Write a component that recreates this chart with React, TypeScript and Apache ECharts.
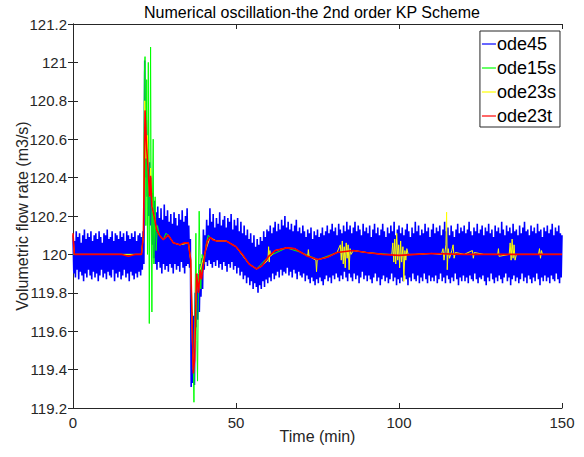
import React, { useEffect, useRef } from "react";
import * as echarts from "echarts";

const title = "Numerical oscillation-the 2nd order KP Scheme";
const xName = "Time (min)";
const yName = "Volumetric flow rate (m3/s)";
const seriesNames = ["ode45", "ode15s", "ode23s", "ode23t"];
const seriesColors = ["#0000FF", "#00FF00", "#FFFF00", "#FF0000"];

// ode45: noisy band, read as upper value at t = 0, 0.5, 1, ... and lower value at t + 0.25
const blueHi = [
  120.10, 120.07, 120.12, 120.09, 120.11, 120.06, 120.10, 120.13, 120.08, 120.11,
  120.09, 120.12, 120.07, 120.10, 120.11, 120.08, 120.12, 120.09, 120.06, 120.11,
  120.10, 120.13, 120.08, 120.09, 120.12, 120.07, 120.11, 120.10, 120.08, 120.12,
  120.09, 120.11, 120.07, 120.12, 120.10, 120.08, 120.11, 120.09, 120.12, 120.07,
  120.10, 120.11, 120.09, 120.12, 121.01, 120.70, 120.55, 120.48, 120.40, 120.32,
  120.28, 120.22, 120.25, 120.19, 120.24, 120.18, 120.26, 120.20, 120.23, 120.17,
  120.21, 120.16, 120.22, 120.19, 120.15, 120.21, 120.18, 120.23, 120.17, 120.20,
  120.24, 120.15, 120.08, 119.70, 119.68, 119.80, 119.90, 119.86, 119.95, 119.98,
  120.13, 120.10, 120.18, 120.15, 120.24, 120.17, 120.21, 120.14, 120.19, 120.16,
  120.22, 120.15, 120.18, 120.20, 120.14, 120.19, 120.17, 120.21, 120.13, 120.18,
  120.15, 120.19, 120.12, 120.17, 120.11, 120.15, 120.10, 120.13, 120.08, 120.11,
  120.06, 120.10, 120.04, 120.08, 120.05, 120.09, 120.07, 120.12, 120.09, 120.13,
  120.12, 120.15, 120.11, 120.14, 120.17, 120.12, 120.16, 120.13, 120.18, 120.15,
  120.20, 120.14, 120.17, 120.13, 120.16, 120.12, 120.15, 120.18, 120.12, 120.14,
  120.11, 120.15, 120.12, 120.09, 120.13, 120.11, 120.14, 120.08, 120.12, 120.10,
  120.13, 120.09, 120.11, 120.14, 120.10, 120.12, 120.15, 120.11, 120.13, 120.16,
  120.12, 120.14, 120.10, 120.16, 120.13, 120.11, 120.15, 120.12, 120.17, 120.13,
  120.15, 120.11, 120.14, 120.17, 120.12, 120.15, 120.13, 120.10, 120.16, 120.12,
  120.14, 120.11, 120.15, 120.09, 120.13, 120.16, 120.11, 120.14, 120.10, 120.13,
  120.16, 120.12, 120.09, 120.14, 120.11, 120.15, 120.12, 120.17, 120.10, 120.13,
  120.15, 120.11, 120.14, 120.10, 120.13, 120.16, 120.12, 120.09, 120.14, 120.11,
  120.17, 120.12, 120.15, 120.10, 120.13, 120.11, 120.16, 120.12, 120.14, 120.09,
  120.13, 120.16, 120.11, 120.14, 120.12, 120.15, 120.10, 120.13, 120.17, 120.12,
  120.14, 120.10, 120.15, 120.12, 120.09, 120.13, 120.16, 120.11, 120.14, 120.12,
  120.15, 120.11, 120.13, 120.17, 120.12, 120.10, 120.14, 120.12, 120.16, 120.11,
  120.13, 120.15, 120.10, 120.14, 120.12, 120.16, 120.11, 120.13, 120.09, 120.15,
  120.12, 120.14, 120.11, 120.17, 120.13, 120.10, 120.15, 120.12, 120.14, 120.11,
  120.16, 120.12, 120.13, 120.10, 120.15, 120.11, 120.14, 120.17, 120.12, 120.13,
  120.10, 120.15, 120.12, 120.14, 120.11, 120.16, 120.12, 120.13, 120.09, 120.14,
  120.12, 120.15, 120.11, 120.13, 120.16, 120.10, 120.14, 120.12, 120.15, 120.11,
];
const blueLo = [
  119.90, 119.88, 119.92, 119.87, 119.91, 119.89, 119.86, 119.90, 119.88, 119.92,
  119.89, 119.87, 119.91, 119.88, 119.90, 119.86, 119.89, 119.92, 119.88, 119.90,
  119.87, 119.91, 119.89, 119.88, 119.92, 119.86, 119.90, 119.88, 119.91, 119.87,
  119.89, 119.92, 119.88, 119.90, 119.86, 119.91, 119.89, 119.87, 119.90, 119.88,
  119.91, 119.89, 119.92, 119.95, 120.40, 120.30, 120.20, 120.15, 120.05, 119.98,
  119.95, 119.92, 119.96, 119.93, 119.90, 119.95, 119.92, 119.94, 119.91, 119.95,
  119.93, 119.90, 119.95, 119.92, 119.94, 119.91, 119.96, 119.93, 119.90, 119.94,
  119.95, 119.93, 119.31, 119.33, 119.32, 119.62, 119.66, 119.70, 119.78, 119.82,
  119.92, 119.96, 119.94, 119.97, 119.95, 119.93, 119.96, 119.94, 119.97, 119.93,
  119.95, 119.92, 119.96, 119.94, 119.91, 119.95, 119.93, 119.96, 119.92, 119.94,
  119.90, 119.93, 119.89, 119.91, 119.87, 119.89, 119.85, 119.88, 119.84, 119.86,
  119.82, 119.85, 119.83, 119.80, 119.84, 119.82, 119.86, 119.83, 119.87, 119.85,
  119.88, 119.86, 119.90, 119.87, 119.89, 119.91, 119.88, 119.92, 119.89, 119.91,
  119.90, 119.93, 119.89, 119.91, 119.88, 119.92, 119.90, 119.87, 119.91, 119.89,
  119.88, 119.90, 119.86, 119.89, 119.87, 119.85, 119.88, 119.86, 119.84, 119.87,
  119.85, 119.88, 119.86, 119.84, 119.87, 119.89, 119.86, 119.88, 119.85, 119.89,
  119.87, 119.90, 119.88, 119.86, 119.89, 119.87, 119.91, 119.88, 119.86, 119.90,
  119.88, 119.86, 119.90, 119.87, 119.89, 119.85, 119.88, 119.91, 119.87, 119.89,
  119.86, 119.89, 119.87, 119.85, 119.88, 119.90, 119.86, 119.88, 119.84, 119.87,
  119.89, 119.86, 119.88, 119.85, 119.87, 119.90, 119.86, 119.88, 119.84, 119.87,
  119.85, 119.88, 119.86, 119.89, 119.87, 119.84, 119.88, 119.86, 119.90, 119.87,
  119.86, 119.89, 119.85, 119.88, 119.86, 119.90, 119.87, 119.85, 119.89, 119.86,
  119.88, 119.86, 119.89, 119.85, 119.87, 119.90, 119.86, 119.88, 119.85, 119.89,
  119.87, 119.85, 119.88, 119.86, 119.90, 119.87, 119.84, 119.88, 119.86, 119.89,
  119.86, 119.88, 119.85, 119.89, 119.87, 119.86, 119.90, 119.87, 119.85, 119.88,
  119.87, 119.89, 119.86, 119.84, 119.88, 119.86, 119.90, 119.87, 119.85, 119.88,
  119.86, 119.89, 119.87, 119.85, 119.88, 119.90, 119.86, 119.88, 119.84, 119.87,
  119.89, 119.86, 119.88, 119.85, 119.87, 119.90, 119.86, 119.88, 119.85, 119.89,
  119.87, 119.85, 119.88, 119.86, 119.90, 119.87, 119.84, 119.88, 119.86, 119.89,
  119.86, 119.88, 119.85, 119.89, 119.87, 119.86, 119.90, 119.87, 119.85, 119.88,
];
const blueEnd = [150, 120.1];

// ode15s
const greenT = [
  0, 21, 21.6, 21.9, 22.1, 22.35, 22.6, 22.85, 23.1, 23.4, 23.6, 23.8, 24.0, 24.2,
  24.4, 24.6, 24.8, 25.2, 25.5, 25.9, 26.5, 27.7, 28.5, 29.2, 30.8, 32.8, 35.4,
  36.1, 36.7, 37.1, 37.4, 37.7, 38.0, 38.2, 38.5, 38.7, 39.0, 39.2, 39.6, 40.2,
  40.8, 41.5, 42, 44, 47, 50, 54, 56.3, 60, 65.5, 70, 75.2, 81, 86, 90, 100, 110,
  120, 150,
];
const greenV = [
  120.0, 120.0, 120.1, 120.95, 121.03, 120.15, 120.91, 120.0, 121.0, 119.64, 120.4,
  121.08, 120.2, 119.7, 120.3, 120.6, 119.95, 120.3, 120.02, 120.15, 120.1, 120.077,
  120.11, 120.1, 120.06, 120.05, 120.06, 119.97, 119.6, 119.23, 119.7, 120.11,
  119.55, 119.34, 119.9, 120.225, 119.95, 119.82, 120.0, 119.95, 120.05, 120.1,
  120.088, 120.07, 120.07, 120.04, 119.95, 119.924, 119.99, 120.034, 120.01,
  119.973, 120.01, 120.02, 120.01, 119.995, 120.005, 120.0, 120.0,
];

// ode23s
const yellowT = [
  0, 0.4, 21, 21.6, 22.0, 22.4, 22.8, 23.1, 23.5, 23.8, 24.2, 24.6, 25.1, 25.6,
  26.5, 27.7, 29.2, 30.8, 32.8, 35.4, 36.1, 36.6, 36.9, 37.3, 37.9, 38.5, 39,
  40.5, 42, 44, 47, 50, 54, 56.3, 58, 59.8, 60, 60.2, 60.4, 60.6, 62, 65.5, 68,
  70, 72, 72.2, 72.4, 74.5, 74.7, 74.9, 75.2, 78, 81, 82, 82.3, 82.6, 82.9, 83.2,
  83.5, 83.8, 84.1, 84.4, 84.7, 85, 85.3, 86, 90, 95, 97.8, 98.1, 98.4, 98.7, 99,
  99.3, 99.6, 99.9, 100.2, 100.5, 100.8, 101.2, 101.5, 101.8, 102.1, 102.4, 102.8,
  105, 110, 113, 113.5, 113.8, 114.4, 114.6, 114.8, 115.1, 115.5, 116.2, 116.6,
  116.9, 117.3, 120, 122.5, 122.8, 123.1, 126, 130.3, 130.5, 130.7, 133.8, 134.1,
  134.4, 134.7, 135.0, 135.3, 135.6, 136, 142.8, 143.1, 143.4, 143.7, 144, 150,
];
const yellowV = [
  120.1, 120.0, 120.0, 120.1, 120.8, 120.5, 120.62, 120.43, 120.3, 120.45, 120.25,
  120.22, 120.18, 120.13, 120.1, 120.077, 120.1, 120.06, 120.05, 120.06, 119.97,
  119.55, 119.4, 119.5, 119.9, 119.8, 119.92, 120.01, 120.088, 120.07, 120.07,
  120.04, 119.95, 119.924, 119.94, 119.97, 120.04, 119.96, 120.02, 119.99, 120.02,
  120.034, 120.03, 120.01, 119.99, 120.025, 119.99, 119.97, 119.91, 119.97, 119.973,
  119.985, 120.01, 120.05, 119.97, 120.07, 119.95, 120.04, 119.93, 120.06, 119.98,
  120.05, 119.92, 120.03, 120.0, 120.02, 120.01, 120.0, 120.0, 120.06, 119.96,
  120.08, 119.95, 120.11, 119.97, 120.05, 119.93, 120.07, 119.96, 120.04, 119.86,
  120.02, 119.97, 120.03, 120.0, 120.0, 120.005, 120.0, 120.03, 119.97, 120.05,
  120.22, 119.92, 120.03, 119.98, 120.02, 120.05, 119.98, 120.01, 120.0, 120.02,
  119.98, 120.01, 120.0, 120.0, 120.03, 119.99, 120.0, 120.06, 119.97, 120.08,
  119.98, 120.05, 119.97, 120.0, 120.0, 120.03, 119.98, 120.02, 120.0, 120.0,
];

// ode23t
const redT = [
  0, 0.4, 5, 10, 15, 17, 19, 21, 21.6, 22.1, 22.6, 23.1, 23.5, 23.8, 24.2, 24.6,
  25.1, 25.6, 26.5, 27.7, 28.5, 29.2, 30.0, 30.8, 32.8, 34, 35.4, 36.1, 36.6,
  36.9, 37.3, 37.9, 38.5, 39, 39.4, 40.5, 41.2, 42, 43, 44, 47, 50, 52, 54, 56.3,
  58, 60, 62, 65.5, 68, 70, 72, 75.2, 78, 81, 86, 90, 95, 100, 105, 110, 120, 130,
  140, 150,
];
const redV = [
  120.11, 120.0, 120.0, 120.0, 120.0, 119.99, 120.0, 120.0, 120.1, 120.75, 120.55,
  120.43, 120.3, 120.41, 120.25, 120.22, 120.18, 120.13, 120.1, 120.077, 120.09,
  120.1, 120.08, 120.06, 120.05, 120.06, 120.06, 119.97, 119.6, 119.38, 119.45,
  119.9, 119.8, 119.92, 119.87, 120.01, 120.07, 120.088, 120.075, 120.07, 120.07,
  120.04, 120.0, 119.95, 119.924, 119.94, 119.99, 120.02, 120.034, 120.03, 120.01,
  119.99, 119.973, 119.985, 120.01, 120.02, 120.01, 120.0, 119.995, 120.0, 120.005,
  120.0, 120.0, 120.0, 120.0,
];

const xTicks = { min: 0, max: 150, interval: 50 };
const yTicks = { min: 119.2, max: 121.2, interval: 0.2 };

const FONT = "'Liberation Sans', Arial, Helvetica, sans-serif";
const INK = "#262626";

function pairs(t: number[], v: number[]) {
  return t.map((x, i) => [x, v[i]]);
}

function bluePairs() {
  const out: number[][] = [];
  blueHi.forEach((h, i) => {
    out.push([i * 0.5, h]);
    out.push([i * 0.5 + 0.25, blueLo[i]]);
  });
  out.push(blueEnd);
  return out;
}

export default function App() {
  const ref = useRef<HTMLDivElement>(null);
  useEffect(() => {
    if (!ref.current) return;
    const chart = echarts.init(ref.current, undefined, { renderer: "svg" });
    const axisCommon = {
      axisLine: { show: true, lineStyle: { color: INK, width: 1 } },
      axisTick: { show: true, inside: true, length: 5, lineStyle: { color: INK } },
      splitLine: { show: false },
    };
    const data = [bluePairs(), pairs(greenT, greenV), pairs(yellowT, yellowV), pairs(redT, redV)];
    chart.setOption({
      animation: false,
      backgroundColor: "#ffffff",
      textStyle: { fontFamily: FONT },
      graphic: [
        {
          type: "text",
          x: 312,
          y: 12,
          silent: true,
          style: {
            text: title,
            align: "center",
            verticalAlign: "middle",
            fontFamily: FONT,
            fontSize: 16,
            fill: "#000",
          },
        },
      ],
      grid: {
        left: 73,
        right: 22,
        top: 24,
        bottom: 49,
        containLabel: false,
        outerBoundsMode: "none",
      },
      legend: {
        orient: "vertical",
        right: 24,
        top: 31,
        padding: [4, 4, 2, 2],
        itemGap: 6,
        itemWidth: 14,
        itemHeight: 1.2,
        icon: "rect",
        borderColor: INK,
        borderWidth: 1,
        borderRadius: 0,
        backgroundColor: "#ffffff",
        textStyle: { fontFamily: FONT, fontSize: 18, color: "#000", padding: [0, 0, 0, -4] },
        data: seriesNames,
      },
      xAxis: [
        {
          type: "value",
          ...xTicks,
          name: xName,
          nameLocation: "middle",
          nameGap: 20,
          nameMoveOverlap: false,
          nameTextStyle: { fontFamily: FONT, fontSize: 16, color: INK, verticalAlign: "top" },
          axisLabel: { fontFamily: FONT, fontSize: 15, color: INK, margin: 7 },
          ...axisCommon,
        },
        {
          type: "value",
          position: "top",
          ...xTicks,
          axisLabel: { show: false },
          ...axisCommon,
        },
      ],
      yAxis: [
        {
          type: "value",
          ...yTicks,
          name: yName,
          nameLocation: "middle",
          nameGap: 43,
          nameMoveOverlap: false,
          nameTextStyle: { fontFamily: FONT, fontSize: 16, color: INK },
          axisLabel: {
            fontFamily: FONT,
            fontSize: 15,
            color: INK,
            margin: 6,
            formatter: (v: number) => String(parseFloat(v.toFixed(1))),
          },
          ...axisCommon,
        },
        {
          type: "value",
          position: "right",
          ...yTicks,
          axisLabel: { show: false },
          ...axisCommon,
        },
      ],
      series: seriesNames.map((name, i) => ({
        name,
        type: "line",
        xAxisIndex: 0,
        yAxisIndex: 0,
        data: data[i],
        symbol: "none",
        showSymbol: false,
        color: seriesColors[i],
        lineStyle: { color: seriesColors[i], width: i === 3 ? 1.6 : i === 0 ? 1.6 : 1 },
        z: 2 + i,
      })),
    });
    return () => chart.dispose();
  }, []);
  return (
    <div
      ref={ref}
      style={{ position: "fixed", left: 0, top: 0, width: 584, height: 457, background: "#fff" }}
    />
  );
}
